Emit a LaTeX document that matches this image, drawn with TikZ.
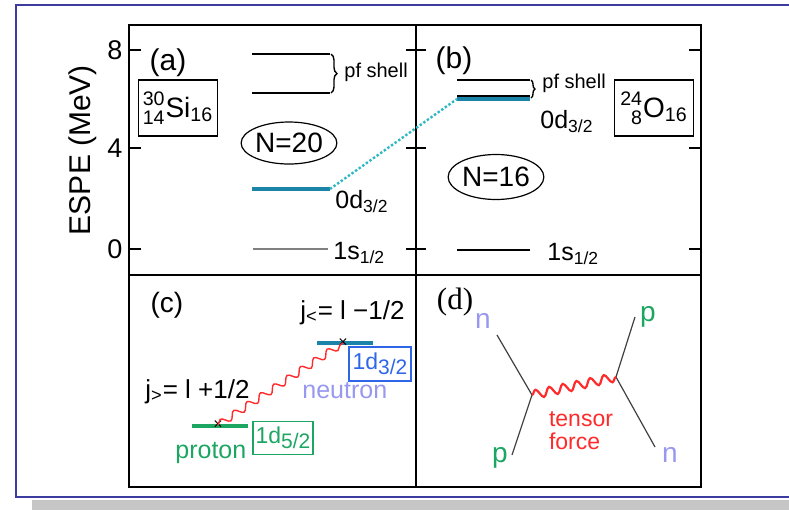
\documentclass[tikz,border=0pt]{standalone}
\usepackage{fontspec}
\setmainfont{Liberation Sans}
\newfontfamily\timesfont{Liberation Serif}
\usepackage{mathtools}
\usepackage{xcolor}
\usepackage{tikz}
\usetikzlibrary{positioning,calc,decorations.pathreplacing,decorations.pathmorphing,shapes.geometric}
\definecolor{frameblue}{HTML}{3C3CA0}
\definecolor{shadowgray}{HTML}{C6C6C6}
\definecolor{dlevel}{HTML}{1B84A8}
\definecolor{dshift}{HTML}{2DB8C4}
\definecolor{protgreen}{HTML}{1DA562}
\definecolor{neutblue}{HTML}{2F66E8}
\definecolor{neutlav}{HTML}{9898F0}
\definecolor{forcered}{HTML}{FF2A2A}
\newcommand{\fsz}[1]{\fontsize{#1}{#1}\selectfont}
\newcommand{\nucl}[4]{$\prescript{\text{#1}}{\text{#2}}{\text{#3}}_{\text{#4}}$}
\newcommand{\boxsub}[1]{\raisebox{-0.45ex}{\fsz{10.5}#1}}

\begin{document}
\begin{tikzpicture}[x=0.5pt, y=-0.5pt,
  lvl/.style={line width=0.7pt},
  lbl/.style={inner sep=0pt, anchor=base west, font=\fsz{12.5}},
  nucbox/.style={draw, line width=0.7pt, minimum width=39.5pt, minimum height=28pt, inner sep=1pt, font=\fsz{14}},
  shellgap/.style={draw, ellipse, line width=0.6pt, inner sep=0pt, font=\fsz{14}},
  tag/.style={font=\fsz{15}}]
\useasboundingbox (0,0) rectangle (789,510);
\fill[shadowgray] (32,500) rectangle (789,510);
\draw[frameblue, line width=1pt] (789,5) -- (16,5) -- (16,497) -- (789,497);
\draw[line width=0.8pt] (129,25) rectangle (701,487);
\draw[line width=0.8pt] (416,25) -- (416,487) (129,275) -- (701,275);
\foreach \e/\y in {8/50,4/148,0/249} {
  \draw[line width=0.8pt] (129,\y) -- ++(12,0) (406,\y) -- (426,\y) (701,\y) -- ++(-12,0);
  \node[font=\fsz{13.5}] (val\e) at (115,\y) {\e};
}
\node[font=\fsz{15}, rotate=90] (espe) at (83,150) {ESPE (MeV)};

\node[tag] (taga) at (168,63) {(a)};
\node[nucbox] (si) at (178,108) {\nucl{30}{14}{Si}{16}};
\node[shellgap, minimum width=46pt, minimum height=21pt] (n20) at (289,143) {N=20};
\draw[lvl] (252,54) -- (330,54) (252,93) -- (330,93);
\draw[lvl, decorate, decoration={brace, amplitude=3pt}] (331,54) -- (331,93);
\node[lbl, font=\fsz{10}] (pfa) at (344,77) {pf shell};
\coordinate (ad) at (330,189);
\draw[dlevel, line width=2pt] (252,189) -- (ad);
\node[lbl] (ada) at (335,208) {0d\textsubscript{3/2}};
\draw[lvl, gray] (253,249) -- (328,249);
\node[lbl] (asa) at (333,259) {1s\textsubscript{1/2}};

\node[tag] (tagb) at (454,61) {(b)};
\node[nucbox] (ox) at (654,108) {\nucl{24}{8}{O}{16}};
\node[shellgap, minimum width=44pt, minimum height=22.5pt] (n16) at (496,177) {N=16};
\draw[lvl] (457,80) -- (530,80) (457,96) -- (530,96);
\coordinate (bd) at (457,99);
\draw[dlevel, line width=2pt] (bd) -- (530,99);
\draw[lvl, decorate, decoration={brace, amplitude=2pt}] (531,80) -- (531,98);
\node[lbl, font=\fsz{10}] (pfb) at (542,88) {pf shell};
\node[lbl] (bda) at (540,128) {0d\textsubscript{3/2}};
\draw[line width=0.8pt] (457,250) -- (530,250);
\node[lbl] (bsa) at (547,260) {1s\textsubscript{1/2}};
\draw[dshift, line width=1.2pt, densely dotted] (ad) -- (bd);

\node[tag, font=\fsz{14}] (tagc) at (167,305) {(c)};
\node[lbl, font=\fsz{13}] (jlow) at (300,319) {j\textsubscript{<}= l −1/2};
\node[lbl, font=\fsz{13}] (jhigh) at (145,398) {j\textsubscript{>}= l +1/2};
\draw[dlevel, line width=2pt] (317,343) -- (373,343);
\draw[protgreen, line width=2pt] (192,426) -- (248,426);
\node[draw=neutblue, text=neutblue, line width=0.7pt, minimum width=31pt, minimum height=17pt, inner sep=1pt, font=\fsz{11.5}] (d32) at (380,364) {1d\boxsub{3/2}};
\node[draw=protgreen, text=protgreen, line width=0.7pt, minimum width=30pt, minimum height=16.5pt, inner sep=1pt, font=\fsz{11.5}] (d52) at (283,438) {1d\boxsub{5/2}};
\node[lbl, neutlav] (neut) at (302,398) {neutron};
\node[lbl, protgreen] (prot) at (175,458) {proton};
\node[inner sep=0pt, font=\fsz{8}] (xp) at (218,425) {×};
\node[inner sep=0pt, font=\fsz{8}] (xn) at (343,343) {×};
\draw[forcered, line width=0.7pt, decorate, decoration={snake, amplitude=1.8pt, segment length=8pt}] (xp.center) -- (xn.center);

\node[tag, font=\timesfont\fsz{15.5}] (tagd) at (455,302) {(d)};
\coordinate (v1) at (532,395);
\coordinate (v2) at (616,377);
\coordinate (nin) at (497,335);
\coordinate (pout) at (512,455);
\coordinate (pin) at (635,317);
\coordinate (nout) at (655,447);
\node[neutlav, font=\fsz{14}] (nl) at (483,321) {n};
\node[protgreen, font=\fsz{14}] (pl) at (648,317) {p};
\node[protgreen, font=\fsz{14}] (pb) at (500,458) {p};
\node[neutlav, font=\fsz{14}] (nr) at (670,455) {n};
\draw[line width=0.6pt, black!75] (nin) -- (v1) -- (pout) (pin) -- (v2) -- (nout);
\draw[forcered, line width=1.1pt, decorate, decoration={snake, amplitude=2.2pt, segment length=7pt}] (v1) -- (v2);
\node[forcered, align=left, font=\fsz{11.5}, inner sep=0pt] (tensor) at (581,431) {tensor\\force};
\end{tikzpicture}
\end{document}
